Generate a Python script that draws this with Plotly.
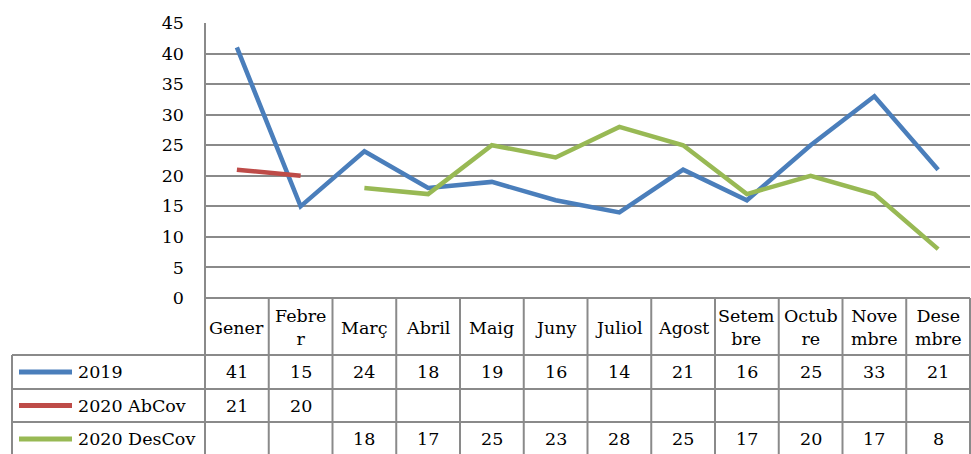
import plotly.graph_objects as go

months = ["Gener", "Febre<br>r", "Març", "Abril", "Maig", "Juny", "Juliol", "Agost",
          "Setem<br>bre", "Octub<br>re", "Nove<br>mbre", "Dese<br>mbre"]
y2019 = [41, 15, 24, 18, 19, 16, 14, 21, 16, 25, 33, 21]
y2020_ab = [21, 20, None, None, None, None, None, None, None, None, None, None]
y2020_des = [None, None, 18, 17, 25, 23, 28, 25, 17, 20, 17, 8]
series_names = ["2019", "2020 AbCov", "2020 DesCov"]
series_colors = ["#4A7EBB", "#BE4B48", "#98B954"]
series_vals = [y2019, y2020_ab, y2020_des]
y_ticks = list(range(0, 50, 5))

W, H = 971, 454
FONT = "DejaVu Serif"
FS = 17.5
GRID = "#8A8A8A"


def X(px):
    return px / W


def Y(py):
    return 1 - py / H


left, right, top, bottom = 205, 970, 23, 298
xs = list(range(len(months)))

fig = go.Figure()
for name, vals, col in zip(series_names, series_vals, series_colors):
    fig.add_trace(go.Scatter(x=xs, y=vals, mode="lines", name=name,
                             line=dict(color=col, width=4.5), connectgaps=False,
                             showlegend=False))

shapes = []
annotations = []

# table geometry
row_edges = [bottom, 355, 389, 422, 456]
col_w = (right - left) / len(months)

# horizontal lines of table
shapes.append(dict(type="line", xref="paper", yref="paper", x0=X(left), x1=X(right),
                   y0=Y(bottom), y1=Y(bottom), line=dict(color=GRID, width=2)))
for r in row_edges[1:]:
    shapes.append(dict(type="line", xref="paper", yref="paper", x0=X(12), x1=X(right),
                       y0=Y(r), y1=Y(r), line=dict(color=GRID, width=2)))
# vertical lines
shapes.append(dict(type="line", xref="paper", yref="paper", x0=X(left), x1=X(left),
                   y0=Y(top), y1=Y(H), line=dict(color=GRID, width=2)))
shapes.append(dict(type="line", xref="paper", yref="paper", x0=X(12), x1=X(12),
                   y0=Y(row_edges[1]), y1=Y(H), line=dict(color=GRID, width=2)))
for k in range(1, len(months) + 1):
    xx = left + k * col_w
    shapes.append(dict(type="line", xref="paper", yref="paper", x0=X(xx), x1=X(xx),
                       y0=Y(bottom), y1=Y(H), line=dict(color=GRID, width=2)))

# header labels
for i, m in enumerate(months):
    annotations.append(dict(x=i, xref="x", y=Y((row_edges[0] + row_edges[1]) / 2 + 1), yref="paper",
                            text=m, showarrow=False, font=dict(family=FONT, size=FS, color="black"),
                            xanchor="center", yanchor="middle", align="center"))

# series rows
for r, (name, vals, col) in enumerate(zip(series_names, series_vals, series_colors)):
    yc = (row_edges[r + 1] + row_edges[r + 2]) / 2
    shapes.append(dict(type="line", xref="paper", yref="paper", x0=X(19), x1=X(72),
                       y0=Y(yc), y1=Y(yc), line=dict(color=col, width=5)))
    annotations.append(dict(x=X(76), xref="paper", y=Y(yc), yref="paper", text=name,
                            showarrow=False, xanchor="left", yanchor="middle",
                            font=dict(family=FONT, size=FS, color="black")))
    for i, v in enumerate(vals):
        if v is None:
            continue
        annotations.append(dict(x=i, xref="x", y=Y(yc), yref="paper", text=str(v),
                                showarrow=False, xanchor="center", yanchor="middle",
                                font=dict(family=FONT, size=FS, color="black")))

fig.update_layout(
    width=W, height=H,
    margin=dict(l=0, r=0, t=0, b=0, autoexpand=False),
    paper_bgcolor="white", plot_bgcolor="white",
    xaxis=dict(domain=[X(left), X(right)], range=[-0.5, len(months) - 0.5],
               showgrid=False, zeroline=False, showticklabels=False, showline=False,
               fixedrange=True),
    yaxis=dict(domain=[Y(bottom), Y(top)], range=[0, 45], tickvals=y_ticks,
               showgrid=True, gridcolor=GRID, gridwidth=2, zeroline=False,
               showline=False, ticks="", ticklabelstandoff=20,
               tickfont=dict(family=FONT, size=FS, color="black")),
    shapes=shapes, annotations=annotations,
)

fig.write_html("out.html", config={"displayModeBar": False},
               post_script="document.body.style.margin='0';document.body.style.overflow='hidden';")
